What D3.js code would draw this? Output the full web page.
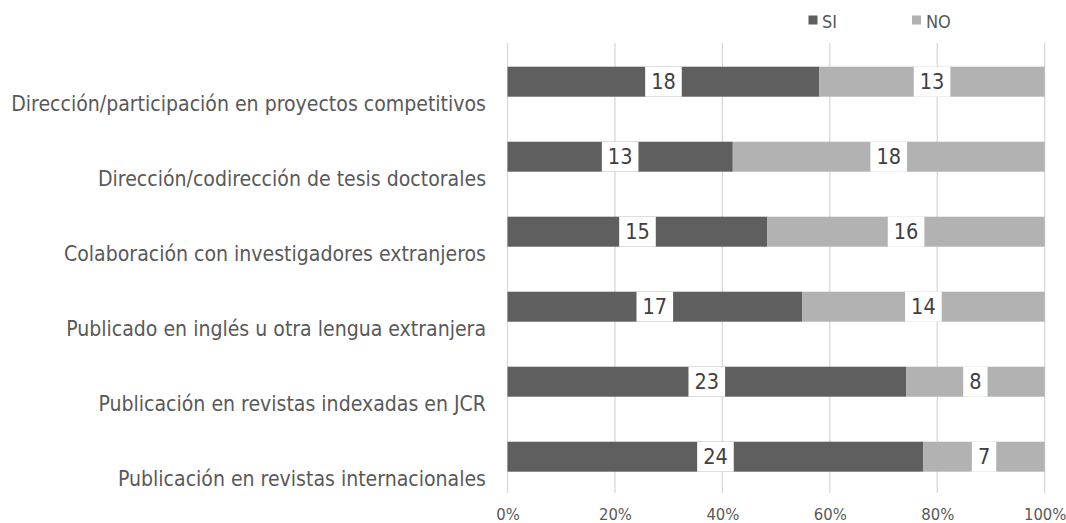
<!DOCTYPE html>
<html>
<head>
<meta charset="utf-8">
<script src="https://cdn.jsdelivr.net/npm/d3@7"></script>
<style>
  html, body { margin: 0; padding: 0; background: #ffffff; }
  svg { display: block; }
  text { font-family: "DejaVu Sans Condensed", "DejaVu Sans", sans-serif; }
</style>
</head>
<body>
<svg id="chart" width="1066" height="523"></svg>
<script>
const categories = [
  "Dirección/participación en proyectos competitivos",
  "Dirección/codirección de tesis doctorales",
  "Colaboración con investigadores extranjeros",
  "Publicado en inglés u otra lengua extranjera",
  "Publicación en revistas indexadas en JCR",
  "Publicación en revistas internacionales"
];
const seriesNames = ["SI", "NO"];
const siValues = [18, 13, 15, 17, 23, 24];
const noValues = [13, 18, 16, 14, 8, 7];
const tickValues = [0, 0.2, 0.4, 0.6, 0.8, 1.0];
const tickLabels = ["0%", "20%", "40%", "60%", "80%", "100%"];

const colors = { SI: "#5f5f5f", NO: "#b2b2b2" };
const textColor = "#595959";

const svg = d3.select("#chart");

const plot = { left: 507.5, right: 1044.7, top: 43, bottom: 493 };

const x = d3.scaleLinear().domain([0, 1]).range([plot.left, plot.right]);
const y = d3.scaleBand().domain(categories)
  .range([plot.top + 1.2, plot.bottom + 1.2])
  .paddingInner(0.6).paddingOuter(0.3);

const rows = categories.map((c, i) => ({ cat: c, SI: siValues[i], NO: noValues[i] }));
const stack = d3.stack().keys(seriesNames).offset(d3.stackOffsetExpand);
const stacked = stack(rows);

// gridlines
const xAxis = d3.axisBottom(x).tickValues(tickValues).tickFormat((d, i) => tickLabels[i]).tickSize(0);
const gridG = svg.append("g");
gridG.selectAll("line").data(tickValues).join("line")
  .attr("x1", d => x(d)).attr("x2", d => x(d))
  .attr("y1", plot.top).attr("y2", plot.bottom)
  .attr("stroke", "#d9d9d9").attr("stroke-width", 1.3);

const axG = svg.append("g").attr("transform", `translate(0,${plot.bottom})`).call(xAxis);
axG.select(".domain").remove();
axG.selectAll("text")
  .attr("y", 22).attr("dy", "0")
  .attr("dominant-baseline", "middle")
  .attr("fill", textColor)
  .style("font-size", "16.5px")
  .style("font-family", "\"DejaVu Sans Condensed\", \"DejaVu Sans\", sans-serif");

// bars
const layers = svg.append("g").selectAll("g").data(stacked).join("g")
  .attr("fill", d => colors[d.key]);
layers.selectAll("rect").data(d => d).join("rect")
  .attr("x", d => x(d[0]))
  .attr("width", d => x(d[1]) - x(d[0]))
  .attr("y", d => y(d.data.cat))
  .attr("height", y.bandwidth());

// data labels with white boxes
const labelG = svg.append("g");
stacked.forEach(layer => {
  layer.forEach(d => {
    const cx = (x(d[0]) + x(d[1])) / 2;
    const cy = y(d.data.cat) + y.bandwidth() / 2;
    const g = labelG.append("g");
    const rect = g.append("rect").attr("fill", "#ffffff");
    const t = g.append("text")
      .attr("x", cx).attr("y", cy)
      .attr("text-anchor", "middle")
      .attr("dominant-baseline", "central")
      .attr("fill", "#404040")
      .style("font-size", "21.5px")
      .text(d.data[layer.key]);
    const w = t.node().getComputedTextLength() + 12;
    rect.attr("x", cx - w / 2).attr("width", w)
      .attr("y", y(d.data.cat)).attr("height", y.bandwidth());
  });
});

// category labels
const catG = svg.append("g");
const catTexts = catG.selectAll("text").data(categories).join("text")
  .attr("x", 486)
  .attr("y", d => y(d) + y.bandwidth() / 2 + 22)
  .attr("text-anchor", "end")
  .attr("dominant-baseline", "central")
  .attr("fill", textColor)
  .style("font-size", "19px")
  .text(d => d);
// fit longest label to the reference width
let maxW = 0;
catTexts.each(function () { maxW = Math.max(maxW, this.getComputedTextLength()); });
const fs = 19 * 475 / maxW;
catTexts.style("font-size", fs + "px");

// legend
const legendItems = [
  { key: "SI", sx: 808.5, tx: 822 },
  { key: "NO", sx: 912, tx: 926 }
];
const lg = svg.append("g");
legendItems.forEach(it => {
  lg.append("rect").attr("x", it.sx).attr("y", 15.5).attr("width", 9).attr("height", 9)
    .attr("fill", colors[it.key]);
  lg.append("text").attr("x", it.tx).attr("y", 21)
    .attr("dominant-baseline", "central")
    .attr("fill", textColor)
    .style("font-size", "18px")
    .text(it.key);
});
</script>
</body>
</html>
